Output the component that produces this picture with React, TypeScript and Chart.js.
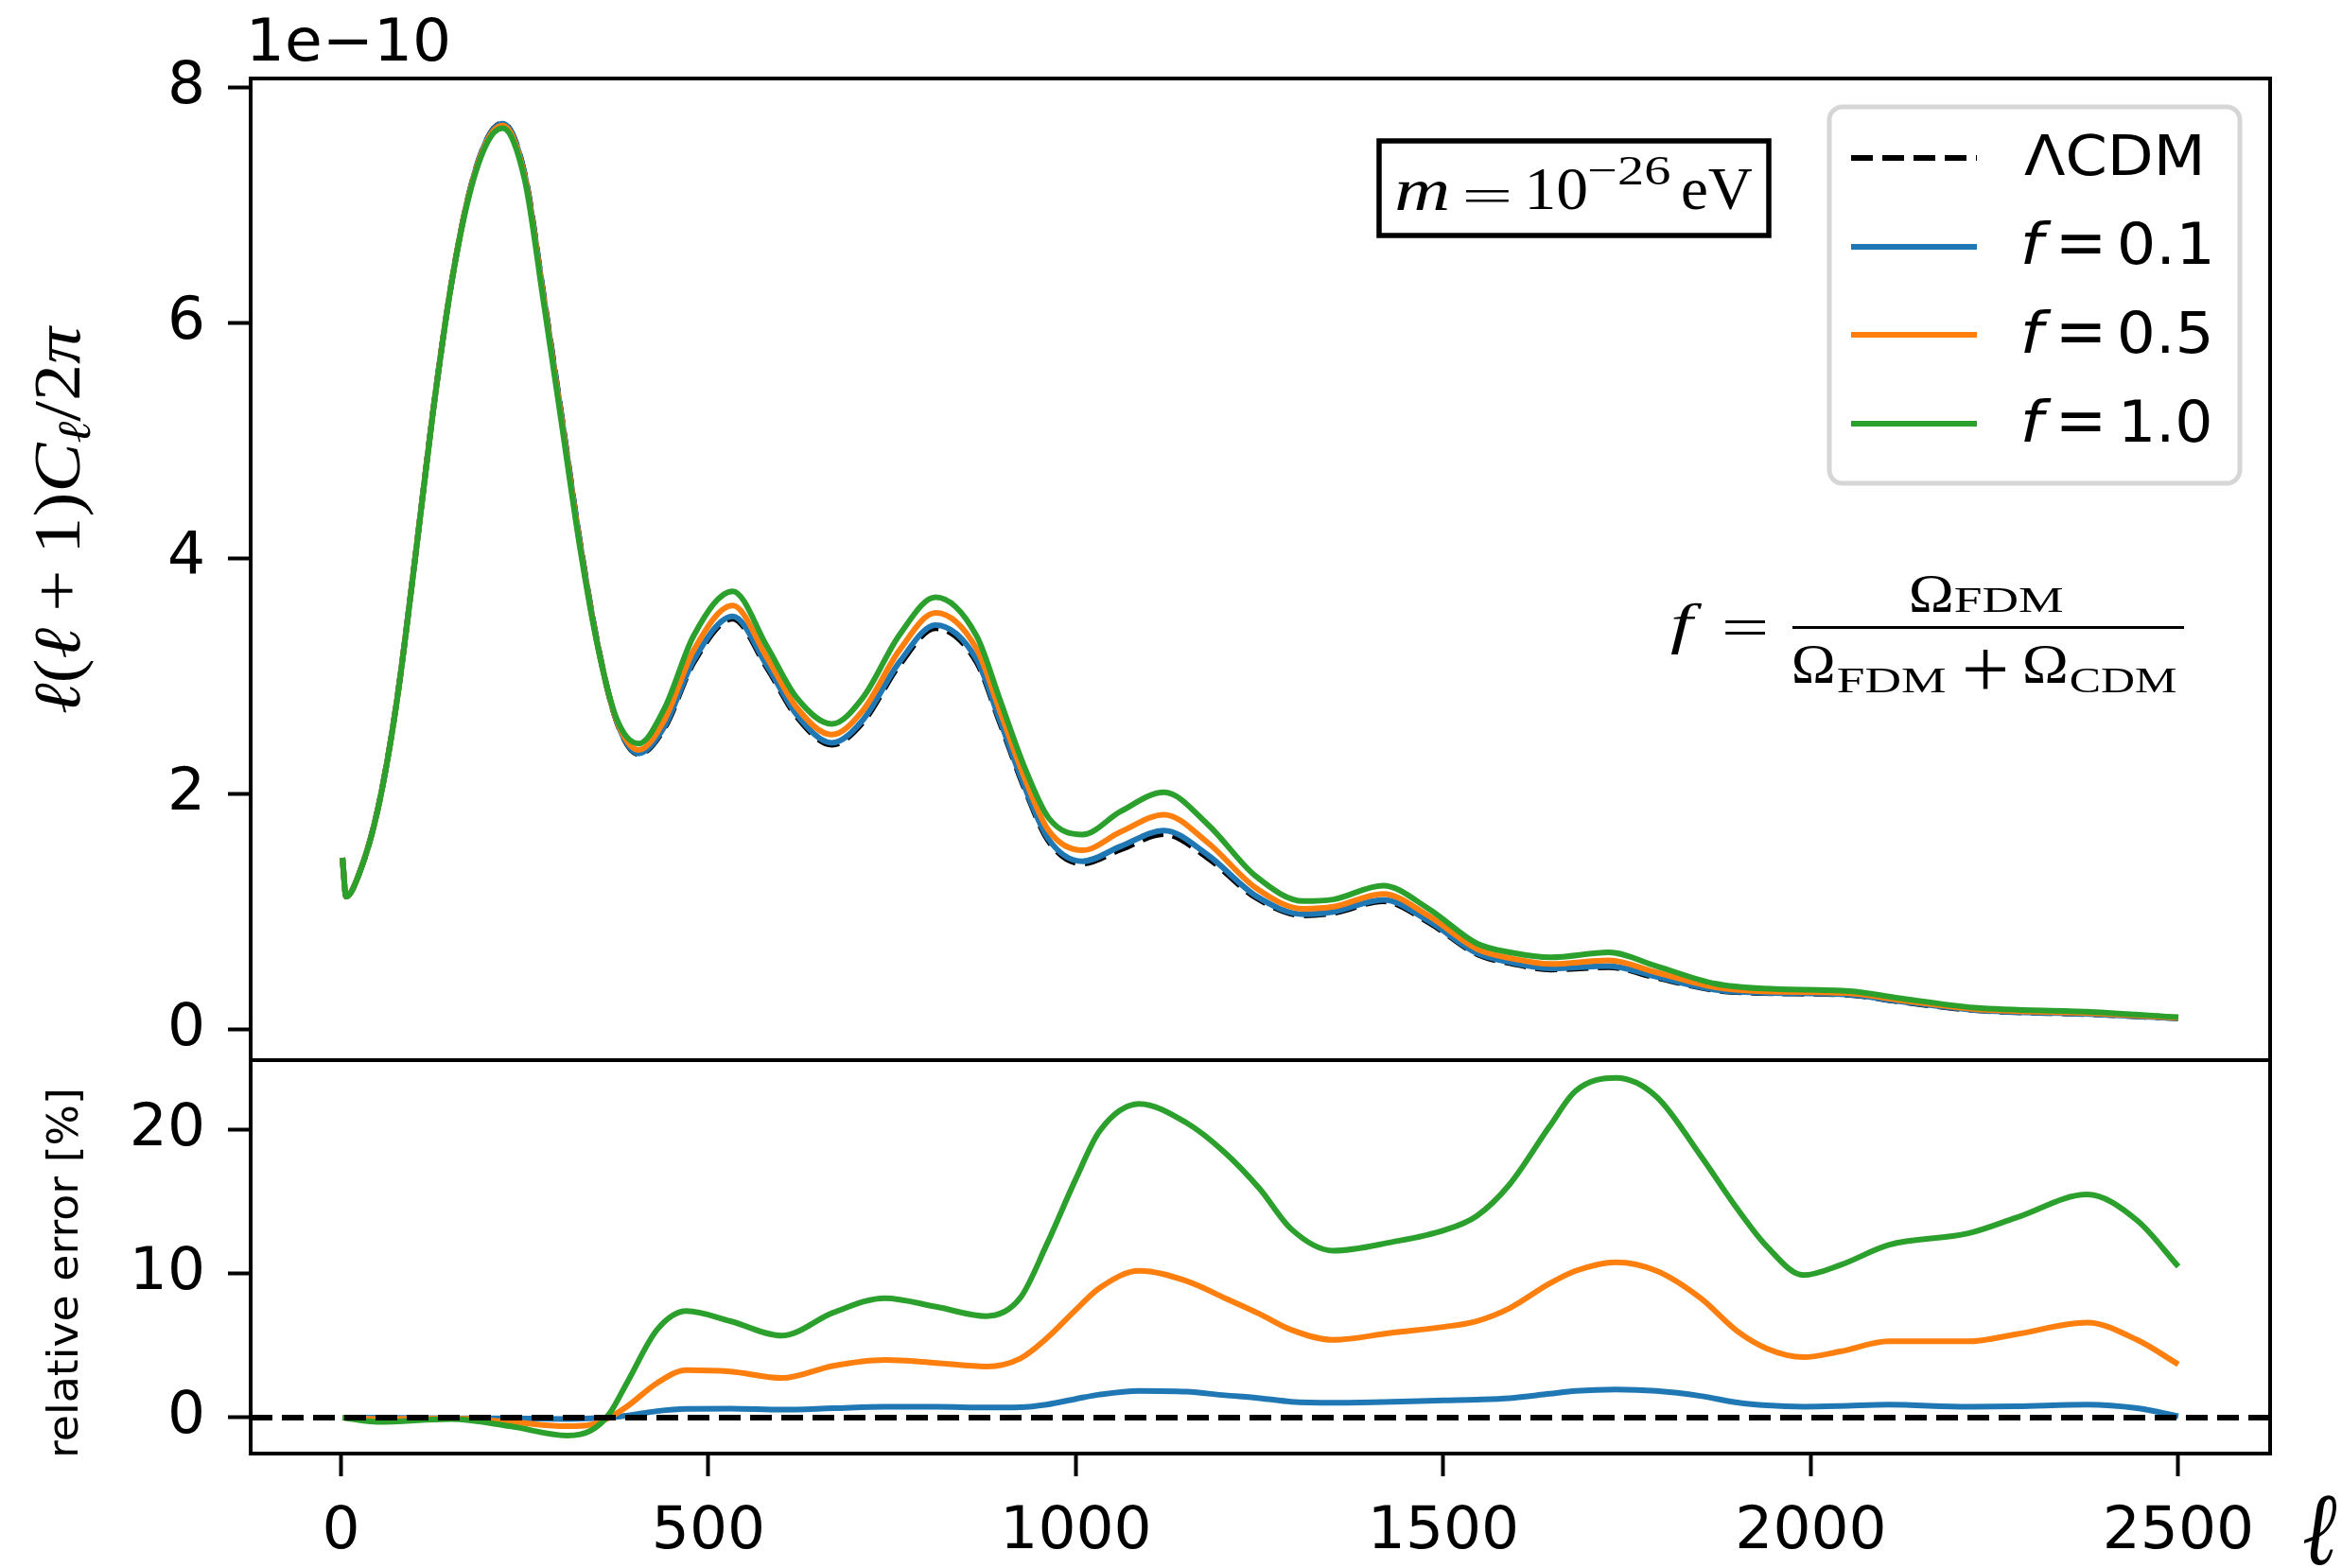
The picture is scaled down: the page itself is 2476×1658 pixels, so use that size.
import React, { useEffect, useRef } from "react";
import { Chart, registerables } from "chart.js";

Chart.register(...registerables);

// ---------------- data ----------------
// top panel: multipoles and l(l+1)C_l/2pi in units of 1e-10
const topEll = [2, 7, 25, 50, 75, 100, 125, 150, 175, 200, 220, 250, 275, 300, 325, 350, 375, 405, 440, 480, 533, 580, 620, 668, 710, 760, 809, 865, 897, 930, 963, 1009, 1061, 1120, 1179, 1245, 1310, 1350, 1418, 1480, 1546, 1594, 1646, 1725, 1790, 1869, 1935, 2053, 2118, 2223, 2380, 2500];
const lcdmCl = [1.46, 1.13, 1.33, 1.87, 2.75, 3.96, 5.24, 6.33, 7.12, 7.58, 7.70, 7.27, 6.27, 5.22, 4.15, 3.25, 2.62, 2.34, 2.56, 3.12, 3.49, 3.07, 2.66, 2.42, 2.61, 3.10, 3.41, 3.12, 2.60, 2.05, 1.60, 1.41, 1.53, 1.66, 1.46, 1.12, 0.97, 0.99, 1.09, 0.91, 0.64, 0.56, 0.51, 0.53, 0.44, 0.335, 0.31, 0.295, 0.24, 0.165, 0.13, 0.095];
const f01Cl = [1.46, 1.13, 1.33, 1.87, 2.75, 3.96, 5.24, 6.33, 7.12, 7.578, 7.696, 7.266, 6.265, 5.215, 4.147, 3.249, 2.621, 2.346, 2.573, 3.139, 3.511, 3.087, 2.675, 2.436, 2.629, 3.123, 3.436, 3.142, 2.618, 2.065, 1.615, 1.429, 1.557, 1.691, 1.485, 1.135, 0.98, 1.0, 1.102, 0.921, 0.648, 0.568, 0.519, 0.54, 0.448, 0.339, 0.313, 0.297, 0.242, 0.166, 0.131, 0.095];
const f05Cl = [1.46, 1.13, 1.329, 1.868, 2.748, 3.958, 5.24, 6.33, 7.113, 7.565, 7.681, 7.245, 6.242, 5.191, 4.126, 3.24, 2.628, 2.375, 2.629, 3.223, 3.602, 3.156, 2.737, 2.505, 2.71, 3.224, 3.54, 3.232, 2.699, 2.14, 1.69, 1.523, 1.68, 1.826, 1.59, 1.202, 1.026, 1.043, 1.153, 0.966, 0.683, 0.603, 0.557, 0.587, 0.485, 0.36, 0.325, 0.309, 0.253, 0.174, 0.139, 0.099];
const f10Cl = [1.46, 1.129, 1.327, 1.864, 2.743, 3.952, 5.232, 6.324, 7.099, 7.546, 7.658, 7.219, 6.21, 5.157, 4.102, 3.234, 2.641, 2.429, 2.726, 3.348, 3.724, 3.251, 2.82, 2.597, 2.819, 3.354, 3.673, 3.342, 2.795, 2.23, 1.797, 1.657, 1.854, 2.015, 1.745, 1.301, 1.091, 1.105, 1.222, 1.026, 0.73, 0.652, 0.614, 0.655, 0.538, 0.391, 0.348, 0.327, 0.269, 0.186, 0.15, 0.105];

// bottom panel: relative error in %
const errEll = [2, 50, 150, 230, 308, 340, 365, 390, 430, 470, 530, 600, 670, 740, 810, 878, 924, 960, 1000, 1032, 1086, 1150, 1203, 1250, 1293, 1350, 1430, 1500, 1545, 1590, 1644, 1680, 1735, 1790, 1850, 1900, 1940, 1990, 2040, 2106, 2214, 2280, 2376, 2444, 2500];
const f01Err = [0, 0, -0.05, -0.05, -0.1, -0.05, 0, 0.15, 0.45, 0.6, 0.62, 0.55, 0.65, 0.75, 0.75, 0.7, 0.72, 0.9, 1.3, 1.6, 1.86, 1.8, 1.55, 1.35, 1.1, 1.03, 1.1, 1.2, 1.25, 1.35, 1.65, 1.85, 1.95, 1.85, 1.5, 1.05, 0.85, 0.76, 0.8, 0.9, 0.75, 0.78, 0.9, 0.65, 0.1];
const f05Err = [0, -0.1, -0.05, -0.3, -0.6, -0.5, 0, 0.8, 2.4, 3.3, 3.2, 2.75, 3.6, 4.0, 3.8, 3.55, 4.1, 5.5, 7.5, 9.0, 10.2, 9.5, 8.3, 7.2, 6.1, 5.4, 5.9, 6.3, 6.7, 7.6, 9.3, 10.2, 10.8, 10.2, 8.3, 6.0, 4.8, 4.2, 4.6, 5.3, 5.3, 5.8, 6.6, 5.4, 3.7];
const f10Err = [0, -0.3, -0.1, -0.6, -1.25, -0.9, 0.25, 2.5, 6.1, 7.4, 6.7, 5.7, 7.3, 8.3, 7.7, 7.05, 8.3, 12.0, 16.6, 19.9, 21.8, 20.5, 18.4, 15.9, 13.1, 11.6, 12.2, 13.0, 14.0, 16.2, 20.2, 22.7, 23.6, 22.3, 18.2, 14.5, 11.9, 9.9, 10.6, 12.0, 12.8, 13.9, 15.5, 13.7, 10.5];

const xTicks = [0, 500, 1000, 1500, 2000, 2500];
const topYTicks = [0, 2, 4, 6, 8];
const botYTicks = [0, 10, 20];
const legendLabels = ["ΛCDM", "f=0.1", "f=0.5", "f=1.0"];
const seriesColors = ["#000000", "#1f77b4", "#ff7f0e", "#2ca02c"];

// ---------------- layout ----------------
const W = 2476;
const H = 1658;
const AX_LEFT = 265;
const AX_RIGHT = 2400;
const TOP_Y0 = 83;
const SPLIT_Y = 1121;
const BOT_Y1 = 1537;
const X_MIN = -122.9;
const X_MAX = 2624.9;
const TOP_MIN = -0.26;
const TOP_MAX = 8.08;
const BOT_MIN = -2.5;
const BOT_MAX = 24.84;
const LW = 6;
const DASH = [23, 10];
const SANS = '"DejaVu Sans", sans-serif';
const SERIF = '"Liberation Serif", "DejaVu Serif", serif';

function pts(xs: number[], ys: number[]) {
  return xs.map((x, i) => ({ x, y: ys[i] }));
}

function fitBox(ctx: CanvasRenderingContext2D, text: string, font: string, x0: number, x1: number, y0: number, y1: number) {
  ctx.save();
  ctx.font = font;
  ctx.textAlign = "left";
  ctx.textBaseline = "alphabetic";
  ctx.fillStyle = "#000";
  const m = ctx.measureText(text);
  const iw = m.actualBoundingBoxLeft + m.actualBoundingBoxRight;
  const ih = m.actualBoundingBoxAscent + m.actualBoundingBoxDescent;
  ctx.translate(x0, y0);
  ctx.scale((x1 - x0) / iw, (y1 - y0) / ih);
  ctx.fillText(text, m.actualBoundingBoxLeft, m.actualBoundingBoxAscent);
  ctx.restore();
}

function fitBoxRot(ctx: CanvasRenderingContext2D, text: string, font: string, yBottom: number, yTop: number, x0: number, x1: number) {
  ctx.save();
  ctx.translate(x0, yBottom);
  ctx.rotate(-Math.PI / 2);
  fitBox(ctx, text, font, 0, yBottom - yTop, 0, x1 - x0);
  ctx.restore();
}

const axisTickGrid = {
  display: true,
  drawOnChartArea: false,
  drawTicks: true,
  tickLength: 24,
  tickWidth: 4,
  tickColor: "#000",
};

const tickFont = { family: '"DejaVu Sans"', size: 63 };

const framePlugin = {
  id: "frame",
  afterDraw(chart: any) {
    const { ctx, chartArea: a } = chart;
    ctx.save();
    ctx.strokeStyle = "#000";
    ctx.lineWidth = 4;
    ctx.strokeRect(a.left, a.top, a.right - a.left, a.bottom - a.top);
    ctx.restore();
  },
};

const topDecor = {
  id: "topDecor",
  afterDraw(chart: any) {
    const ctx: CanvasRenderingContext2D = chart.ctx;
    // offset text
    fitBox(ctx, "1e\u221210", `63px ${SANS}`, 266, 473, 18, 65);

    // y label  l(l+1)C_l/2pi
    {
      const fs = 70;
      const it = `italic ${fs}px ${SERIF}`;
      const rm = `${fs}px ${SERIF}`;
      const sub = `italic ${Math.round(fs * 0.7)}px ${SERIF}`;
      const runs: { t: string; f: string; gap?: number; dy?: number }[] = [
        { t: "\u2113", f: it },
        { t: "(", f: rm },
        { t: "\u2113", f: it },
        { t: "+", f: rm, gap: fs * 0.22 },
        { t: "1", f: rm, gap: fs * 0.22 },
        { t: ")", f: rm },
        { t: "C", f: it },
        { t: "\u2113", f: sub, dy: fs * 0.15 },
        { t: "/", f: rm },
        { t: "2", f: rm },
        { t: "\u03c0", f: it },
      ];
      ctx.save();
      let total = 0;
      const widths = runs.map((r) => {
        ctx.font = r.f;
        const w = ctx.measureText(r.t).width;
        total += w + (r.gap || 0);
        return w;
      });
      const len = 755 - 346;
      ctx.translate(84, 755);
      ctx.rotate(-Math.PI / 2);
      ctx.scale(len / total, 1);
      ctx.fillStyle = "#000";
      ctx.textBaseline = "alphabetic";
      let cx = 0;
      runs.forEach((r, i) => {
        cx += r.gap || 0;
        ctx.font = r.f;
        ctx.fillText(r.t, cx, r.dy || 0);
        cx += widths[i];
      });
      ctx.restore();
    }

    // annotation box m = 10^-26 eV
    ctx.save();
    ctx.fillStyle = "#fff";
    ctx.fillRect(1458, 149, 412, 100);
    ctx.strokeStyle = "#000";
    ctx.lineWidth = 5.5;
    ctx.strokeRect(1458, 149, 412, 100);
    ctx.restore();
    fitBox(ctx, "m", `italic 62px ${SERIF}`, 1477, 1531, 192, 222);
    fitBox(ctx, "=", `62px ${SERIF}`, 1550, 1595, 201, 214);
    fitBox(ctx, "10", `62px ${SERIF}`, 1617, 1677, 180, 222);
    fitBox(ctx, "\u221226", `42px ${SERIF}`, 1681, 1765, 165, 195);
    fitBox(ctx, "eV", `62px ${SERIF}`, 1779, 1853, 180, 222);

    // formula f = Omega_FDM / (Omega_FDM + Omega_CDM)
    fitBox(ctx, "f", `italic 62px ${SERIF}`, 1766, 1800, 637, 692);
    fitBox(ctx, "=", `62px ${SERIF}`, 1824, 1866, 656, 672);
    ctx.save();
    ctx.fillStyle = "#000";
    ctx.fillRect(1895, 662, 2309 - 1895, 3);
    ctx.restore();
    fitBox(ctx, "\u03a9", `60px ${SERIF}`, 2021, 2063, 610, 647);
    fitBox(ctx, "FDM", `42px ${SERIF}`, 2067, 2181, 622, 647);
    fitBox(ctx, "\u03a9", `60px ${SERIF}`, 1897, 1938, 684, 722);
    fitBox(ctx, "FDM", `42px ${SERIF}`, 1943, 2057, 707, 732);
    fitBox(ctx, "+", `62px ${SERIF}`, 2078, 2120, 686, 728);
    fitBox(ctx, "\u03a9", `60px ${SERIF}`, 2141, 2184, 684, 722);
    fitBox(ctx, "CDM", `42px ${SERIF}`, 2189, 2301, 707, 732);

    // legend
    ctx.save();
    const lx = 1934, ly = 113, lw = 434, lh = 398;
    ctx.beginPath();
    (ctx as any).roundRect(lx, ly, lw, lh, 14);
    ctx.fillStyle = "rgba(255,255,255,0.8)";
    ctx.fill();
    ctx.strokeStyle = "#d6d6d6";
    ctx.lineWidth = 5;
    ctx.stroke();
    const rowLine = [167, 261, 354, 448];
    chart.data.datasets.forEach((ds: any, i: number) => {
      ctx.strokeStyle = ds.borderColor;
      ctx.lineWidth = ds.borderWidth;
      ctx.setLineDash(ds.borderDash || []);
      ctx.lineCap = "butt";
      ctx.beginPath();
      ctx.moveTo(1957, rowLine[i]);
      ctx.lineTo(2090, rowLine[i]);
      ctx.stroke();
    });
    ctx.setLineDash([]);
    ctx.restore();
    legendLabels.forEach((lab, i) => {
      if (i === 0) {
        fitBox(ctx, lab, `62px ${SANS}`, 2140, 2326, 140, 186);
        return;
      }
      const dy = 94 * (i - 1);
      const val = lab.split("=")[1];
      fitBox(ctx, "f", `italic 62px ${SANS}`, 2140, 2169, 233 + dy, 280 + dy);
      fitBox(ctx, "=", `62px ${SANS}`, 2179, 2221, 248 + dy, 268 + dy);
      fitBox(ctx, val, `62px ${SANS}`, val.startsWith("1") ? 2245 : 2242, 2336, 234 + dy, 280 + dy);
    });
  },
};

const zeroLine = {
  id: "zeroLine",
  afterDatasetsDraw(chart: any) {
    const { ctx, chartArea: a } = chart;
    const y = chart.scales.y.getPixelForValue(0);
    ctx.save();
    ctx.strokeStyle = "#000";
    ctx.lineWidth = LW;
    ctx.setLineDash(DASH);
    ctx.beginPath();
    ctx.moveTo(a.left, y);
    ctx.lineTo(a.right, y);
    ctx.stroke();
    ctx.restore();
  },
};

const botDecor = {
  id: "botDecor",
  afterDraw(chart: any) {
    const ctx: CanvasRenderingContext2D = chart.ctx;
    fitBoxRot(ctx, "relative error [%]", `46px ${SANS}`, 1538, 1154, 48, 89);
    fitBox(ctx, "\u2113", `italic 90px ${SERIF}`, 2435, 2471, 1581, 1655);
  },
};

function lineDs(label: string, data: any[], color: string, order: number, dashed = false) {
  return {
    label,
    data,
    borderColor: color,
    backgroundColor: color,
    borderWidth: LW,
    borderDash: dashed ? DASH : [],
    borderCapStyle: "butt" as const,
    borderJoinStyle: "round" as const,
    pointRadius: 0,
    fill: false,
    cubicInterpolationMode: "monotone" as const,
    order,
  };
}

export default function App() {
  const topRef = useRef<HTMLCanvasElement>(null);
  const botRef = useRef<HTMLCanvasElement>(null);

  useEffect(() => {
    document.body.style.margin = "0";
    const top = new Chart(topRef.current as HTMLCanvasElement, {
      type: "line",
      data: {
        datasets: [
          lineDs(legendLabels[0], pts(topEll, lcdmCl), seriesColors[0], 3, true),
          lineDs(legendLabels[1], pts(topEll, f01Cl), seriesColors[1], 2),
          lineDs(legendLabels[2], pts(topEll, f05Cl), seriesColors[2], 1),
          lineDs(legendLabels[3], pts(topEll, f10Cl), seriesColors[3], 0),
        ] as any,
      },
      options: {
        responsive: false,
        animation: false,
        devicePixelRatio: 1,
        layout: { autoPadding: false, padding: { left: 0, right: W - AX_RIGHT, top: TOP_Y0, bottom: H - SPLIT_Y } } as any,
        plugins: { legend: { display: false }, tooltip: { enabled: false } },
        scales: {
          x: { type: "linear", min: X_MIN, max: X_MAX, display: false },
          y: {
            type: "linear",
            min: TOP_MIN,
            max: TOP_MAX,
            afterFit: (s: any) => { s.width = AX_LEFT; },
            afterBuildTicks: (s: any) => { s.ticks = topYTicks.map((v) => ({ value: v })); },
            ticks: { font: tickFont, color: "#000", padding: 24, callback: (v: any) => String(v) },
            grid: axisTickGrid,
            border: { display: false },
          },
        },
      } as any,
      plugins: [framePlugin, topDecor],
    });

    const bot = new Chart(botRef.current as HTMLCanvasElement, {
      type: "line",
      data: {
        datasets: [
          lineDs(legendLabels[1], pts(errEll, f01Err), seriesColors[1], 2),
          lineDs(legendLabels[2], pts(errEll, f05Err), seriesColors[2], 1),
          lineDs(legendLabels[3], pts(errEll, f10Err), seriesColors[3], 0),
        ] as any,
      },
      options: {
        responsive: false,
        animation: false,
        devicePixelRatio: 1,
        layout: { autoPadding: false, padding: { left: 0, right: W - AX_RIGHT, top: SPLIT_Y, bottom: 0 } } as any,
        plugins: { legend: { display: false }, tooltip: { enabled: false } },
        scales: {
          x: {
            type: "linear",
            min: X_MIN,
            max: X_MAX,
            afterFit: (s: any) => { s.height = H - BOT_Y1; },
            afterBuildTicks: (s: any) => { s.ticks = xTicks.map((v) => ({ value: v })); },
            ticks: { font: tickFont, color: "#000", padding: 22, autoSkip: false, maxRotation: 0, minRotation: 0, callback: (v: any) => String(v) },
            grid: axisTickGrid,
            border: { display: false },
          },
          y: {
            type: "linear",
            min: BOT_MIN,
            max: BOT_MAX,
            afterFit: (s: any) => { s.width = AX_LEFT; },
            afterBuildTicks: (s: any) => { s.ticks = botYTicks.map((v) => ({ value: v })); },
            ticks: { font: tickFont, color: "#000", padding: 24, callback: (v: any) => String(v) },
            grid: axisTickGrid,
            border: { display: false },
          },
        },
      } as any,
      plugins: [zeroLine, framePlugin, botDecor],
    });

    return () => {
      top.destroy();
      bot.destroy();
    };
  }, []);

  return (
    <div style={{ position: "absolute", left: 0, top: 0, width: W, height: H, background: "#fff", overflow: "hidden" }}>
      <canvas ref={topRef} width={W} height={H} style={{ position: "absolute", left: 0, top: 0, width: W, height: H }} />
      <canvas ref={botRef} width={W} height={H} style={{ position: "absolute", left: 0, top: 0, width: W, height: H }} />
    </div>
  );
}
